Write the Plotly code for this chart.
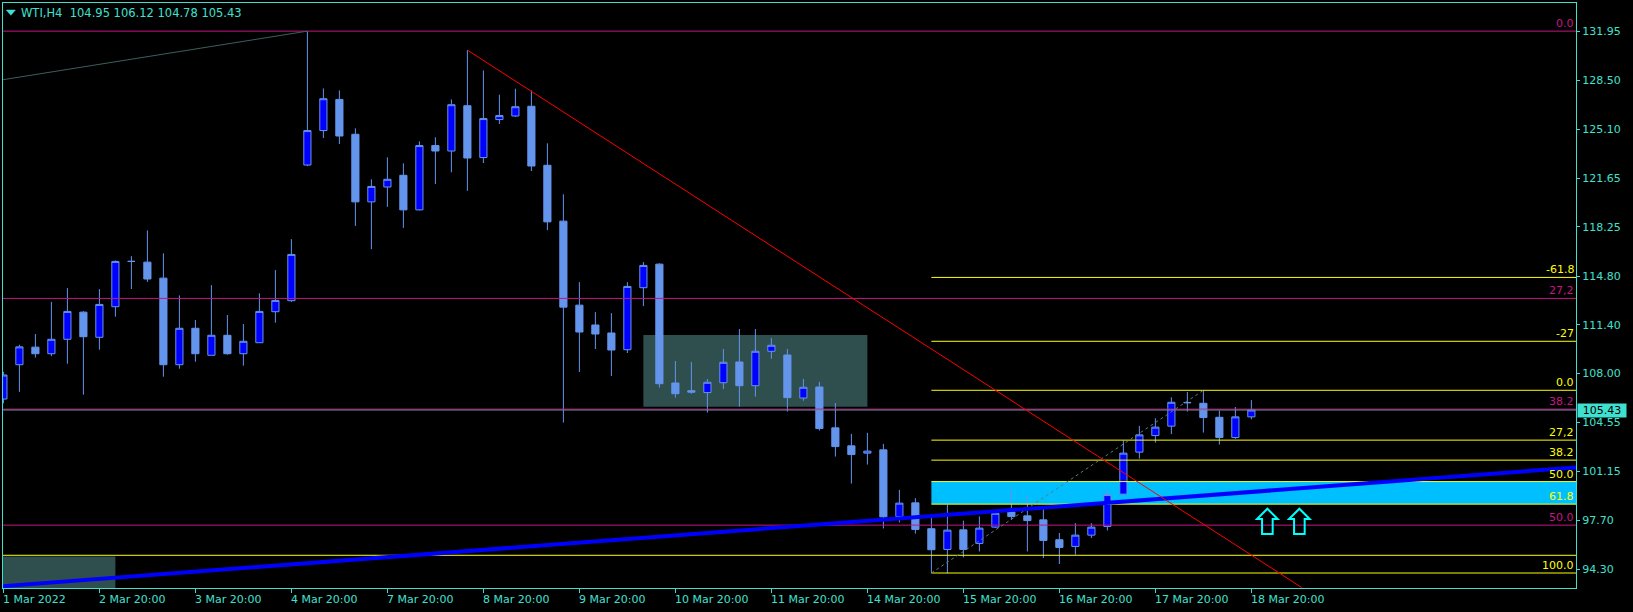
import plotly.graph_objects as go

# ---------------- data ----------------
bar_index = list(range(79))
opens = [106.2, 108.6, 109.83, 109.37, 110.38, 112.28, 110.52, 112.66, 115.84, 115.78,
         114.66, 108.6, 111.15, 109.26, 110.66, 109.37, 110.14, 112.31, 113.08, 122.58,
         124.99, 127.17, 124.73, 120.0, 121.04, 121.86, 119.44, 123.94, 123.56, 126.73,
         123.1, 125.76, 126.01, 126.69, 122.56, 118.65, 112.77, 111.38, 110.82, 109.65,
         113.99, 115.64, 107.32, 106.78, 106.65, 107.34, 108.79, 107.13, 109.54, 109.28,
         106.27, 107.04, 104.18, 102.92, 102.41, 102.64, 97.97, 98.93, 97.12, 95.67,
         97.04, 96.09, 97.23, 98.3, 98.02, 97.74, 96.35, 95.88, 96.67, 97.28,
         99.54, 102.48, 103.64, 104.3, 105.96, 105.9, 104.92, 103.5, 104.95]
highs = [108.1, 110.0, 110.75, 113.0, 113.96, 112.35, 113.89, 115.9, 116.2, 118.0,
         116.4, 113.45, 111.73, 114.17, 112.08, 111.45, 113.6, 115.22, 117.39, 131.95,
         127.94, 127.8, 125.15, 121.58, 123.12, 122.7, 124.24, 124.52, 127.17, 130.62,
         129.2, 127.5, 127.92, 127.8, 124.1, 120.53, 114.38, 112.28, 112.21, 114.38,
         115.78, 115.7, 108.86, 108.79, 107.6, 109.7, 111.1, 111.1, 110.47, 109.7,
         107.6, 107.4, 105.92, 103.76, 103.83, 103.06, 99.84, 99.26, 97.89, 98.81,
         97.68, 97.98, 98.25, 99.96, 99.47, 98.51, 96.82, 97.51, 97.51, 99.84,
         103.29, 104.32, 104.85, 106.32, 106.69, 106.81, 105.39, 105.64, 106.12]
lows = [105.9, 106.7, 109.1, 109.2, 108.67, 106.5, 109.65, 111.96, 113.9, 114.4,
        107.76, 108.32, 108.81, 109.26, 109.3, 108.53, 110.14, 111.54, 113.0, 122.5,
        124.47, 124.05, 118.32, 116.69, 119.65, 118.18, 119.4, 121.25, 122.07, 120.77,
        122.72, 125.45, 125.94, 122.16, 118.02, 104.55, 108.09, 109.7, 107.81, 109.42,
        112.7, 107.0, 106.3, 106.57, 105.25, 106.9, 105.67, 106.37, 109.02, 105.32,
        106.08, 103.99, 102.17, 100.28, 101.61, 97.14, 97.56, 96.77, 94.02, 94.0,
        95.11, 95.53, 97.18, 97.74, 95.53, 95.07, 94.65, 95.3, 96.47, 97.0,
        99.5, 102.03, 103.15, 103.74, 105.32, 103.85, 103.01, 103.41, 104.78]
closes = [107.88, 109.85, 109.37, 110.38, 112.33, 110.56, 112.82, 115.83, 115.83, 114.6,
          108.6, 111.15, 109.37, 110.66, 109.37, 110.24, 112.33, 113.1, 116.32, 124.99,
          127.22, 124.61, 120.0, 121.08, 121.58, 119.44, 123.94, 123.56, 126.8, 123.07,
          125.83, 126.04, 126.66, 122.51, 118.6, 112.63, 110.89, 110.75, 109.63, 114.08,
          115.55, 107.27, 106.57, 106.68, 107.37, 108.77, 107.13, 109.54, 109.96, 106.3,
          107.02, 104.13, 102.87, 102.31, 102.55, 97.95, 98.91, 97.07, 95.65, 97.02,
          95.67, 97.16, 98.2, 97.97, 97.69, 96.3, 95.81, 96.67, 97.23, 99.51,
          102.41, 103.69, 104.23, 105.97, 105.94, 104.9, 103.5, 104.95, 105.43]

x_tick_bars = [0, 6, 12, 18, 24, 30, 36, 42, 48, 54, 60, 66, 72, 78]
x_tick_labels = ["1 Mar 2022", "2 Mar 20:00", "3 Mar 20:00", "4 Mar 20:00", "7 Mar 20:00",
                 "8 Mar 20:00", "9 Mar 20:00", "10 Mar 20:00", "11 Mar 20:00", "14 Mar 20:00",
                 "15 Mar 20:00", "16 Mar 20:00", "17 Mar 20:00", "18 Mar 20:00"]
y_tick_vals = [131.95, 128.50, 125.10, 121.65, 118.25, 114.80, 111.40, 108.00,
               104.55, 101.15, 97.70, 94.30]
y_tick_labels = ["131.95", "128.50", "125.10", "121.65", "118.25", "114.80", "111.40",
                 "108.00", "104.55", "101.15", "97.70", "94.30"]

title_text = "WTI,H4  104.95 106.12 104.78 105.43"
last_price = 105.43

magenta_fib_prices = [131.95, 113.24, 105.49, 97.37]
magenta_fib_labels = ["0.0", "27,2", "38.2", "50.0"]

yellow_fib_start = 58
yellow_fib_prices = [114.71, 110.24, 106.81, 103.32, 101.92, 100.42, 98.84, 94.02]
yellow_fib_labels = ["-61.8", "-27", "0.0", "27,2", "38.2", "50.0", "61.8", "100.0"]
yellow_level_full = 95.26

zone_rect = (40, 54, 105.66, 110.68)        # bar0, bar1, price0, price1
corner_rect = (-1, 7.0, 92.0, 95.17)
cyan_zone = (58, 98.4, 98.84, 100.42)

blue_trend = [(-0.03, 93.1), (98.3, 101.41)]
red_trend = [(29, 130.62), (81.15, 93.0)]
fib_diag = [(58, 94.02), (75, 106.81)]
old_diag = [(-0.03, 128.55), (19, 131.95)]

arrow_bars = [79, 81]
arrow_base_price = 96.75

# ---------------- styling ----------------
X_RANGE = [-0.025, 98.29]
Y_RANGE = [92.97, 133.92]
FG = "#40E0D0"
MAG = "#C71585"
YEL = "#FFFF00"
FONT = "DejaVu Sans"

fig = go.Figure()
fig.add_trace(go.Candlestick(
    x=bar_index, open=opens, high=highs, low=lows, close=closes,
    increasing=dict(fillcolor="#0000FF", line=dict(color="#6495ED", width=1)),
    decreasing=dict(fillcolor="#6495ED", line=dict(color="#6495ED", width=1)),
    whiskerwidth=0, hoverinfo="skip", showlegend=False,
))

shapes = []
shapes.append(dict(type="rect", xref="x", yref="y", x0=zone_rect[0], x1=zone_rect[1],
                   y0=zone_rect[2], y1=zone_rect[3], fillcolor="#2F4F4F",
                   line=dict(width=0), layer="below"))
shapes.append(dict(type="rect", xref="x", yref="y", x0=corner_rect[0], x1=corner_rect[1],
                   y0=corner_rect[2], y1=corner_rect[3], fillcolor="#2F4F4F",
                   line=dict(width=0), layer="below"))
shapes.append(dict(type="rect", xref="x", yref="y", x0=cyan_zone[0], x1=cyan_zone[1],
                   y0=cyan_zone[2], y1=cyan_zone[3], fillcolor="#00BFFF",
                   line=dict(width=0), layer="below"))

for p in magenta_fib_prices:
    shapes.append(dict(type="line", xref="paper", yref="y", x0=0, x1=1, y0=p, y1=p,
                       line=dict(color=MAG, width=1), layer="above"))
shapes.append(dict(type="line", xref="paper", yref="y", x0=0, x1=1, y0=last_price,
                   y1=last_price, line=dict(color="#778899", width=1), layer="above"))
shapes.append(dict(type="line", xref="paper", yref="y", x0=0, x1=1, y0=yellow_level_full,
                   y1=yellow_level_full, line=dict(color=YEL, width=1), layer="above"))
for p in yellow_fib_prices:
    shapes.append(dict(type="line", xref="x", yref="y", x0=yellow_fib_start, x1=X_RANGE[1],
                       y0=p, y1=p, line=dict(color=YEL, width=1), layer="above"))
shapes.append(dict(type="line", xref="x", yref="y", x0=old_diag[0][0], y0=old_diag[0][1],
                   x1=old_diag[1][0], y1=old_diag[1][1],
                   line=dict(color="#3E5E5E", width=1), layer="above"))
shapes.append(dict(type="line", xref="x", yref="y", x0=fib_diag[0][0], y0=fib_diag[0][1],
                   x1=fib_diag[1][0], y1=fib_diag[1][1],
                   line=dict(color="#5F7878", width=1, dash="dot"), layer="above"))
shapes.append(dict(type="line", xref="x", yref="y", x0=blue_trend[0][0], y0=blue_trend[0][1],
                   x1=blue_trend[1][0], y1=blue_trend[1][1],
                   line=dict(color="#0000FF", width=4), layer="above"))
shapes.append(dict(type="line", xref="x", yref="y", x0=red_trend[0][0], y0=red_trend[0][1],
                   x1=red_trend[1][0], y1=red_trend[1][1],
                   line=dict(color="#FF0000", width=1), layer="above"))
arrow_path = "M -5.3,0 L 5.3,0 L 5.3,15 L 10.3,15 L 0,25.3 L -10.3,15 L -5.3,15 Z"
for b in arrow_bars:
    shapes.append(dict(type="path", xref="x", yref="y", xsizemode="pixel", ysizemode="pixel",
                       xanchor=b, yanchor=arrow_base_price, path=arrow_path,
                       line=dict(color="#00FFFF", width=2), fillcolor="rgba(0,0,0,0)",
                       layer="above"))
shapes.append(dict(type="path", xref="paper", yref="paper", xsizemode="pixel", ysizemode="pixel",
                   xanchor=0, yanchor=1, path="M 3.3,-7 L 12.4,-7 L 7.85,-12.3 Z",
                   fillcolor=FG, line=dict(color=FG, width=0.5), layer="above"))

annotations = []
for b, t in zip(x_tick_bars, x_tick_labels):
    annotations.append(dict(x=b, xref="x", y=0, yref="paper", text=t, showarrow=False,
                            xanchor="left", yanchor="top", yshift=-3, xshift=-2,
                            font=dict(family=FONT, size=11, color=FG)))
for p, t in zip(magenta_fib_prices, magenta_fib_labels):
    annotations.append(dict(x=1, xref="paper", y=p, yref="y", text=t, showarrow=False,
                            xanchor="right", yanchor="bottom", xshift=0, yshift=-1,
                            font=dict(family=FONT, size=11, color=MAG)))
for p, t in zip(yellow_fib_prices, yellow_fib_labels):
    annotations.append(dict(x=1, xref="paper", y=p, yref="y", text=t, showarrow=False,
                            xanchor="right", yanchor="bottom", xshift=0, yshift=-1,
                            font=dict(family=FONT, size=11, color=YEL)))
annotations.append(dict(x=0, xref="paper", y=1, yref="paper", text=title_text, showarrow=False,
                        xanchor="left", yanchor="middle", xshift=16, yshift=-10,
                        font=dict(family=FONT, size=11.5, color=FG)))
annotations.append(dict(x=1, xref="paper", y=last_price, yref="y", text=str(last_price),
                        showarrow=False, xanchor="left", yanchor="middle", xshift=1,
                        bgcolor=FG, width=46, height=11, borderpad=1,
                        font=dict(family=FONT, size=11, color="#000000")))

fig.update_layout(
    width=1633, height=612,
    margin=dict(l=3, r=57, t=3, b=24),
    paper_bgcolor="#000000", plot_bgcolor="#000000",
    showlegend=False, boxgap=0.36,
    shapes=shapes, annotations=annotations,
    xaxis=dict(range=X_RANGE, showgrid=False, zeroline=False, rangeslider=dict(visible=False),
               tickmode="array", tickvals=x_tick_bars, showticklabels=False,
               ticks="outside", ticklen=4, tickcolor=FG,
               showline=True, linecolor=FG, linewidth=1, mirror=True),
    yaxis=dict(range=Y_RANGE, side="right", showgrid=False, zeroline=False,
               tickmode="array", tickvals=y_tick_vals, ticktext=y_tick_labels,
               ticks="outside", ticklen=3, tickcolor=FG,
               tickfont=dict(family=FONT, size=11, color=FG),
               showline=True, linecolor=FG, linewidth=1, mirror=True),
)

fig.write_html("out.html", config={"displayModeBar": False},
               post_script="document.body.style.margin='0';document.body.style.overflow='hidden';document.body.style.background='#000';")
